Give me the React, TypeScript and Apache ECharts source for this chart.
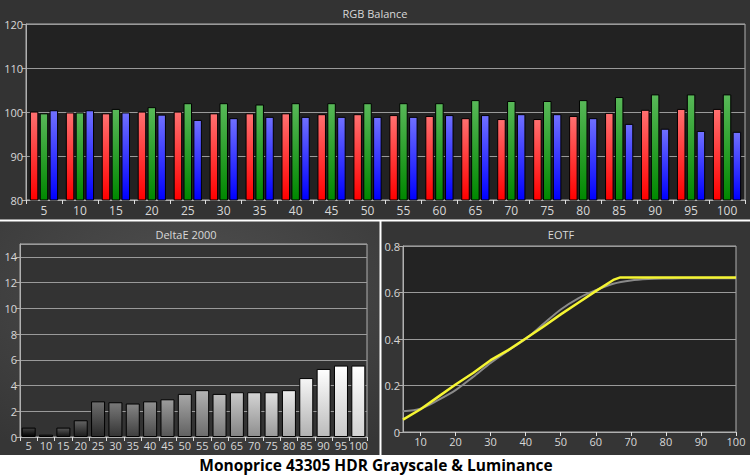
import { useEffect, useRef } from "react";
import * as echarts from "echarts";

// stimulus levels (% of peak) shared by the two bar panels
const LEVELS = ["5", "10", "15", "20", "25", "30", "35", "40", "45", "50", "55", "60", "65", "70", "75", "80", "85", "90", "95", "100"];

// RGB balance (%)
const RED = [100.1, 99.9, 99.7, 100.1, 100.1, 99.7, 99.7, 99.7, 99.5, 99.5, 99.3, 99.1, 98.6, 98.4, 98.4, 99.1, 99.8, 100.5, 100.7, 100.7];
const GREEN = [99.7, 99.9, 100.7, 101.1, 102.0, 102.0, 101.7, 102.0, 102.0, 102.0, 102.0, 102.0, 102.7, 102.5, 102.5, 102.7, 103.4, 104.0, 104.0, 104.0];
const BLUE = [100.4, 100.4, 99.9, 99.4, 98.2, 98.6, 98.9, 98.9, 98.9, 98.9, 98.9, 99.3, 99.3, 99.5, 99.5, 98.6, 97.3, 96.2, 95.7, 95.5];

// DeltaE 2000 per level
const DELTA_E = [0.73, 0.18, 0.73, 1.3, 2.77, 2.7, 2.6, 2.77, 2.93, 3.35, 3.64, 3.35, 3.48, 3.48, 3.48, 3.64, 4.58, 5.29, 5.55, 5.55];

// EOTF: target (grey) and measured (yellow)
const TARGET_X = [5, 10, 15, 20, 25, 30, 35, 40, 45, 50, 55, 60, 65, 70, 75, 80, 85, 90, 95, 100];
const TARGET_Y = [0.089, 0.1, 0.137, 0.18, 0.237, 0.297, 0.35, 0.4, 0.464, 0.527, 0.575, 0.61, 0.638, 0.652, 0.658, 0.66, 0.661, 0.661, 0.661, 0.661];
const MEASURED_X = [5, 10, 15, 20, 25, 30, 35, 40, 45, 50, 55, 60, 65, 67, 70, 75, 80, 85, 90, 95, 100];
const MEASURED_Y = [0.053, 0.098, 0.151, 0.204, 0.254, 0.309, 0.352, 0.402, 0.453, 0.506, 0.556, 0.606, 0.654, 0.665, 0.665, 0.665, 0.665, 0.665, 0.665, 0.665, 0.665];
const EOTF_TICKS = [10, 20, 30, 40, 50, 60, 70, 80, 90, 100];

const FONT = "Open Sans";
const LABEL = "#d8d8d8";
const AXIS = "#b0b0b0";

const vgrad = (top: string, bottom: string) =>
  new echarts.graphic.LinearGradient(0, 0, 0, 1, [
    { offset: 0, color: top },
    { offset: 1, color: bottom },
  ]);

const grey = (v: number) => {
  const c = Math.max(0, Math.min(255, Math.round(v)));
  return `rgb(${c},${c},${c})`;
};

const panelTitle = (text: string, left: number, top: number) => ({
  text, left, top, padding: 0, textAlign: "center",
  textStyle: { color: LABEL, fontSize: 11, fontWeight: "normal", fontFamily: FONT },
});

export default function App() {
  const ref = useRef<HTMLDivElement>(null);

  useEffect(() => {
    if (!ref.current) return;
    const inst = echarts.init(ref.current, undefined, { renderer: "svg" });

    const valueAxisStyle = {
      axisLine: { show: true, lineStyle: { color: AXIS } },
      axisTick: { show: true, length: 4, lineStyle: { color: AXIS } },
      axisLabel: { color: LABEL, fontSize: 11, fontFamily: FONT, margin: 3 },
      splitLine: { lineStyle: { color: "#9a9a9a", width: 1 } },
    };

    const rgbBar = (name: string, data: number[], top: string, bottom: string) => ({
      name, type: "bar", data, xAxisIndex: 0, yAxisIndex: 0,
      barWidth: 8.5, barGap: "16%",
      itemStyle: { color: vgrad(top, bottom), borderColor: "#000", borderWidth: 1 },
    });

    inst.setOption({
      backgroundColor: "#ffffff",
      animation: false,
      textStyle: { fontFamily: FONT },
      title: [
        panelTitle("RGB Balance", 375, 8),
        panelTitle("DeltaE 2000", 186, 229),
        panelTitle("EOTF", 561, 229),
        { text: "Monoprice 43305 HDR Grayscale & Luminance", left: 376, top: 457, padding: 0, textAlign: "center",
          textStyle: { color: "#000", fontSize: 15.5, fontWeight: "bold", fontFamily: FONT } },
      ],
      graphic: [
        { type: "rect", z: -5, shape: { x: 0, y: 0, width: 750, height: 220 }, style: { fill: "#333333" } },
        { type: "rect", z: -5, shape: { x: 0, y: 221, width: 380, height: 234 },
          style: { fill: new echarts.graphic.RadialGradient(0.5, 0.3, 0.8, [
            { offset: 0, color: "#505050" }, { offset: 1, color: "#363636" }]) } },
        { type: "rect", z: -5, shape: { x: 381, y: 221, width: 369, height: 234 }, style: { fill: "#353535" } },
        { type: "line", z: -4, shape: { x1: 0, y1: 220.5, x2: 750, y2: 220.5 }, style: { stroke: "#ffffff", lineWidth: 2 } },
        { type: "line", z: -4, shape: { x1: 380.5, y1: 221, x2: 380.5, y2: 455 }, style: { stroke: "#ffffff", lineWidth: 2 } },
      ],
      grid: [
        { left: 26, top: 24, width: 719, height: 176, show: true, backgroundColor: "#222222", borderColor: AXIS, borderWidth: 1 },
        { left: 20, top: 244, width: 347, height: 193, show: true, backgroundColor: "#333333", borderColor: AXIS, borderWidth: 1 },
        { left: 403, top: 246, width: 333, height: 186, show: true, backgroundColor: "#232323", borderColor: AXIS, borderWidth: 1 },
      ],
      xAxis: [
        {
          type: "category", data: LEVELS, gridIndex: 0,
          axisLine: { show: true, lineStyle: { color: AXIS } },
          axisTick: { show: true, length: 4, lineStyle: { color: "#e0e0e0" } },
          axisLabel: { color: LABEL, fontSize: 12, fontFamily: FONT, margin: 4, interval: 0 },
        },
        {
          type: "category", data: LEVELS, gridIndex: 1,
          axisLine: { show: true, lineStyle: { color: AXIS } },
          axisTick: { show: true, length: 4, lineStyle: { color: "#e0e0e0" } },
          axisLabel: { color: LABEL, fontSize: 11, fontFamily: FONT, margin: 3, interval: 0 },
        },
        {
          type: "value", gridIndex: 2, min: 5, max: 100,
          axisLine: { show: true, lineStyle: { color: AXIS } },
          axisTick: { show: true, length: 4, lineStyle: { color: "#e0e0e0" }, customValues: EOTF_TICKS },
          axisLabel: { color: LABEL, fontSize: 11, fontFamily: FONT, margin: 4, customValues: EOTF_TICKS },
          splitLine: { show: false },
        },
      ],
      yAxis: [
        { type: "value", gridIndex: 0, min: 80, max: 120, interval: 10, ...valueAxisStyle },
        { type: "value", gridIndex: 1, min: 0, max: 15, interval: 2, ...valueAxisStyle,
          axisLabel: { ...valueAxisStyle.axisLabel, showMaxLabel: false } },
        { type: "value", gridIndex: 2, min: 0, max: 0.8, interval: 0.2, ...valueAxisStyle },
      ],
      series: [
        rgbBar("R", RED, "#ff7070", "#ff0000"),
        rgbBar("G", GREEN, "#58b858", "#008800"),
        rgbBar("B", BLUE, "#7070ff", "#0000ff"),
        {
          name: "DeltaE", type: "bar", xAxisIndex: 1, yAxisIndex: 1, barWidth: 14,
          data: DELTA_E.map((v, i) => {
            const g = 40 + (i * 215) / (LEVELS.length - 1);
            return { value: v, itemStyle: { color: vgrad(grey(g + 25), grey(g - 45)) } };
          }),
          itemStyle: { borderColor: "#000", borderWidth: 1 },
        },
        {
          name: "Target", type: "line", xAxisIndex: 2, yAxisIndex: 2, smooth: 0.3,
          data: TARGET_X.map((x, i) => [x, TARGET_Y[i]]),
          showSymbol: false, lineStyle: { color: "#8a8a8a", width: 2 },
        },
        {
          name: "Measured", type: "line", xAxisIndex: 2, yAxisIndex: 2,
          data: MEASURED_X.map((x, i) => [x, MEASURED_Y[i]]),
          showSymbol: false, lineStyle: { color: "#f5f532", width: 2.5 },
        },
      ],
    });

    return () => inst.dispose();
  }, []);

  return <div ref={ref} style={{ position: "absolute", left: 0, top: 0, width: 750, height: 476 }} />;
}
